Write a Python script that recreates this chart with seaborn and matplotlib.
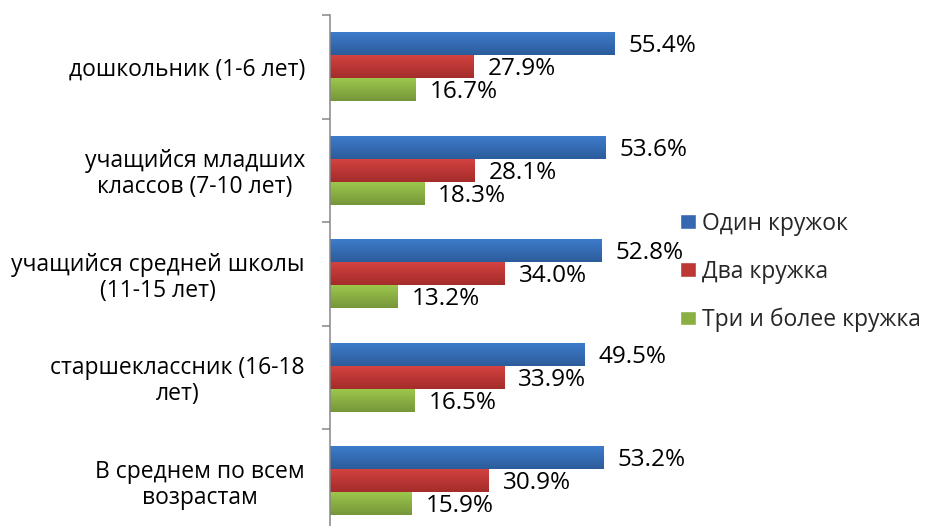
import numpy as np
import pandas as pd
import matplotlib
matplotlib.use("Agg")
import matplotlib.pyplot as plt
from matplotlib.colors import LinearSegmentedColormap
import seaborn as sns

categories = ["дошкольник (1-6 лет)",
              "учащийся младших\nклассов (7-10 лет)",
              "учащийся средней школы\n(11-15 лет)",
              "старшеклассник (16-18\nлет)",
              "В среднем по всем\nвозрастам"]
series = ["Один кружок", "Два кружка", "Три и более кружка"]
one_club = [55.4, 53.6, 52.8, 49.5, 53.2]
two_clubs = [27.9, 28.1, 34.0, 33.9, 30.9]
three_clubs = [16.7, 18.3, 13.2, 16.5, 15.9]

# gradient top / bottom colours, excel style
top_colors = ["#3e7dcd", "#d44341", "#9dc94c"]
bottom_colors = ["#2c5c9b", "#a42c2a", "#76963a"]

df = pd.DataFrame({
    "group": categories * 3,
    "series": [series[0]] * 5 + [series[1]] * 5 + [series[2]] * 5,
    "value": one_club + two_clubs + three_clubs,
})

sns.set_theme(style="white")
plt.rcParams["font.family"] = ["Open Sans", "DejaVu Sans"]
fs = 16.5
fs_val = 17.5

fig = plt.figure(figsize=(9.28, 5.26), dpi=100)
ax = fig.add_axes([330 / 928, -6.5 / 526, 308.6 / 928, 517.5 / 526])

pal = dict(zip(series, ["#3568b0", "#bd3735", "#8aaf43"]))
sns.barplot(data=df, y="group", x="value", hue="series", hue_order=series,
            order=categories, palette=pal, orient="h", width=0.667,
            saturation=1, errorbar=None, ax=ax)

# value labels, nudged a little below bar centre like the original
for cont in ax.containers:
    texts = ax.bar_label(cont, fmt="%.1f%%", padding=10, fontsize=fs_val, color="black")
    for t in texts:
        t.xyann = (t.xyann[0], -1.8)

# vertical gradients clipped to each bar
for i, cont in enumerate(ax.containers):
    cmap = LinearSegmentedColormap.from_list("g%d" % i, [top_colors[i], bottom_colors[i]])
    for bar in cont:
        x0, y0 = bar.get_x(), bar.get_y()
        w, h = bar.get_width(), bar.get_height()
        grad = np.linspace(0, 1, 50).reshape(-1, 1)
        im = ax.imshow(grad, cmap=cmap, aspect="auto", origin="upper",
                       extent=(x0, x0 + w, y0 + h, y0), zorder=bar.get_zorder())
        im.set_clip_path(bar)
        bar.set_facecolor("none")
        bar.set_edgecolor("none")

ax.set_xlim(0, 60)
ax.set_ylim(4.5, -0.5)
ax.xaxis.set_visible(False)
for s in ["top", "right", "bottom"]:
    ax.spines[s].set_visible(False)
ax.spines["left"].set_color("#868686")
ax.spines["left"].set_linewidth(1.1)

ax.set_ylabel("")
ax.set_yticks(range(5))
ax.set_yticklabels(categories, fontsize=fs, color="black")
for lbl in ax.get_yticklabels():
    lbl.set_multialignment("center")
    lbl.set_linespacing(1.1)
ax.set_yticks(np.arange(-0.5, 5, 1), minor=True)
ax.tick_params(axis="y", which="major", length=0, pad=18, left=False)
ax.tick_params(axis="y", which="minor", length=5.8, width=1.1,
               color="#868686", left=True)

sns.move_legend(ax, "center left", bbox_to_anchor=(680 / 928, 1 - 272 / 526),
                bbox_transform=fig.transFigure, frameon=False, title=None,
                fontsize=fs, handlelength=0.68, handleheight=0.6,
                handletextpad=0.3, labelspacing=1.05, borderpad=0,
                borderaxespad=0)

fig.savefig("out.png", dpi=100)
